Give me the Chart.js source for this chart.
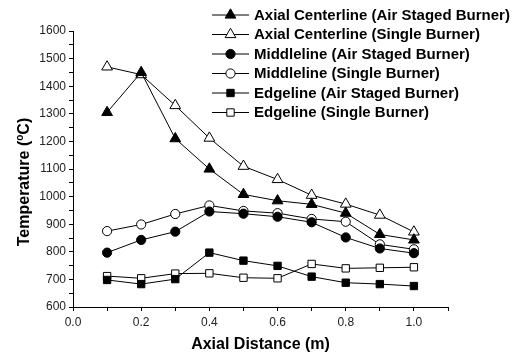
<!DOCTYPE html>
<html>
<head>
<meta charset="utf-8">
<script src="https://cdn.jsdelivr.net/npm/chart.js@4/dist/chart.umd.min.js"></script>
<style>
html,body{margin:0;padding:0;background:#fff;}
#wrap{width:526px;height:356px;}
</style>
</head>
<body>
<div id="wrap"><canvas id="c" width="526" height="356"></canvas></div>
<script>
// ---- data ----
const distances = [0.1, 0.2, 0.3, 0.4, 0.5, 0.6, 0.7, 0.8, 0.9, 1.0];
const axialStaged  = [1305, 1450, 1210, 1100, 1008, 985, 972, 940, 863, 843];
const axialSingle  = [1470, 1442, 1330, 1212, 1110, 1062, 1005, 973, 933, 872];
const middleStaged = [797, 843, 873, 946, 938, 927, 907, 852, 812, 795];
const middleSingle = [875, 899, 937, 968, 948, 940, 919, 909, 827, 809];
const edgeStaged   = [698, 683, 701, 797, 768, 749, 710, 688, 683, 676];
const edgeSingle   = [712, 704, 721, 722, 706, 704, 756, 740, 742, 744];
const seriesLabels = [
  'Axial Centerline (Air Staged Burner)',
  'Axial Centerline (Single Burner)',
  'Middleline (Air Staged Burner)',
  'Middleline (Single Burner)',
  'Edgeline (Air Staged Burner)',
  'Edgeline (Single Burner)'
];
const xTitle = 'Axial Distance (m)';
const yTitleParts = ['Temperature (', 'o', 'C)'];

const FONT = '"Liberation Sans", Arial, sans-serif';
const pts = arr => arr.map((v, i) => ({x: distances[i], y: v}));

function ds(label, arr, style, filled, radius) {
  return {
    label: label,
    data: pts(arr),
    borderColor: '#000',
    borderWidth: 1,
    pointStyle: style,
    pointRadius: radius,
    pointHoverRadius: radius,
    pointBorderWidth: 1,
    pointBorderColor: '#000',
    pointBackgroundColor: filled ? '#000' : '#fff',
    backgroundColor: filled ? '#000' : '#fff',
    fill: false,
    tension: 0
  };
}

const datasets = [
  ds(seriesLabels[0], axialStaged, 'triangle', true, 6.2),
  ds(seriesLabels[1], axialSingle, 'triangle', false, 6.2),
  ds(seriesLabels[2], middleStaged, 'circle', true, 4.6),
  ds(seriesLabels[3], middleSingle, 'circle', false, 4.6),
  ds(seriesLabels[4], edgeStaged, 'rect', true, 5.2),
  ds(seriesLabels[5], edgeSingle, 'rect', false, 5.2)
];

const legendPlugin = {
  id: 'customLegend',
  afterDraw(chart) {
    const ctx = chart.ctx;
    ctx.save();
    chart.data.datasets.forEach((d, i) => {
      const y = 15 + 19.5 * i;
      ctx.strokeStyle = '#000';
      ctx.lineWidth = 1;
      ctx.beginPath();
      ctx.moveTo(212, y);
      ctx.lineTo(249, y);
      ctx.stroke();
      ctx.fillStyle = d.pointBackgroundColor;
      ctx.strokeStyle = '#000';
      Chart.helpers.drawPoint(ctx, {pointStyle: d.pointStyle, rotation: 0, radius: d.pointRadius, borderWidth: 1}, 230.5, y);
      ctx.fillStyle = '#000';
      ctx.font = 'bold 15px ' + FONT;
      ctx.textBaseline = 'middle';
      ctx.textAlign = 'left';
      ctx.fillText(d.label, 254, y + 0.5);
    });

    // y axis title with superscript "o"
    const big = 'bold 16px ' + FONT, small = 'bold 10px ' + FONT;
    ctx.font = big;
    const w1 = ctx.measureText(yTitleParts[0]).width;
    const w3 = ctx.measureText(yTitleParts[2]).width;
    ctx.font = small;
    const w2 = ctx.measureText(yTitleParts[1]).width;
    const total = w1 + w2 + w3;
    ctx.translate(25, 182);
    ctx.rotate(-Math.PI / 2);
    ctx.textBaseline = 'middle';
    ctx.textAlign = 'left';
    let x = -total / 2;
    ctx.font = big; ctx.fillText(yTitleParts[0], x, 0); x += w1;
    ctx.font = small; ctx.fillText(yTitleParts[1], x, -5); x += w2;
    ctx.font = big; ctx.fillText(yTitleParts[2], x, 0);
    ctx.restore();
  }
};

new Chart(document.getElementById('c'), {
  type: 'line',
  data: {datasets: datasets},
  options: {
    responsive: false,
    animation: false,
    devicePixelRatio: 1,
    layout: {padding: {left: 0, right: 78, top: 31, bottom: 0}},
    plugins: {legend: {display: false}, tooltip: {enabled: false}},
    scales: {
      x: {
        type: 'linear',
        min: 0, max: 1.1,
        afterFit(s) { s.height = 49; },
        border: {display: true, color: '#000', width: 1},
        grid: {drawOnChartArea: false, drawTicks: true, tickLength: 4, tickColor: '#000', tickWidth: 1},
        ticks: {
          stepSize: 0.1, autoSkip: false, maxRotation: 0, padding: 4, color: '#222',
          font: {family: FONT, size: 12},
          callback: v => (Math.round(v * 10) % 2 === 0 && v <= 1.0001) ? v.toFixed(1) : ''
        },
        title: {display: true, text: xTitle, color: '#000', font: {family: FONT, size: 16, weight: 'bold'}, padding: {top: 0, bottom: 2}}
      },
      y: {
        type: 'linear',
        min: 600, max: 1600,
        afterFit(s) { s.width = 73; },
        border: {display: true, color: '#000', width: 1},
        grid: {drawOnChartArea: false, drawTicks: true, tickLength: 4, tickColor: '#000', tickWidth: 1},
        ticks: {
          stepSize: 50, autoSkip: false, padding: 3, color: '#222',
          font: {family: FONT, size: 12},
          callback: v => (v % 100 === 0) ? String(v) : ''
        },
        title: {display: false}
      }
    }
  },
  plugins: [legendPlugin]
});
</script>
</body>
</html>
